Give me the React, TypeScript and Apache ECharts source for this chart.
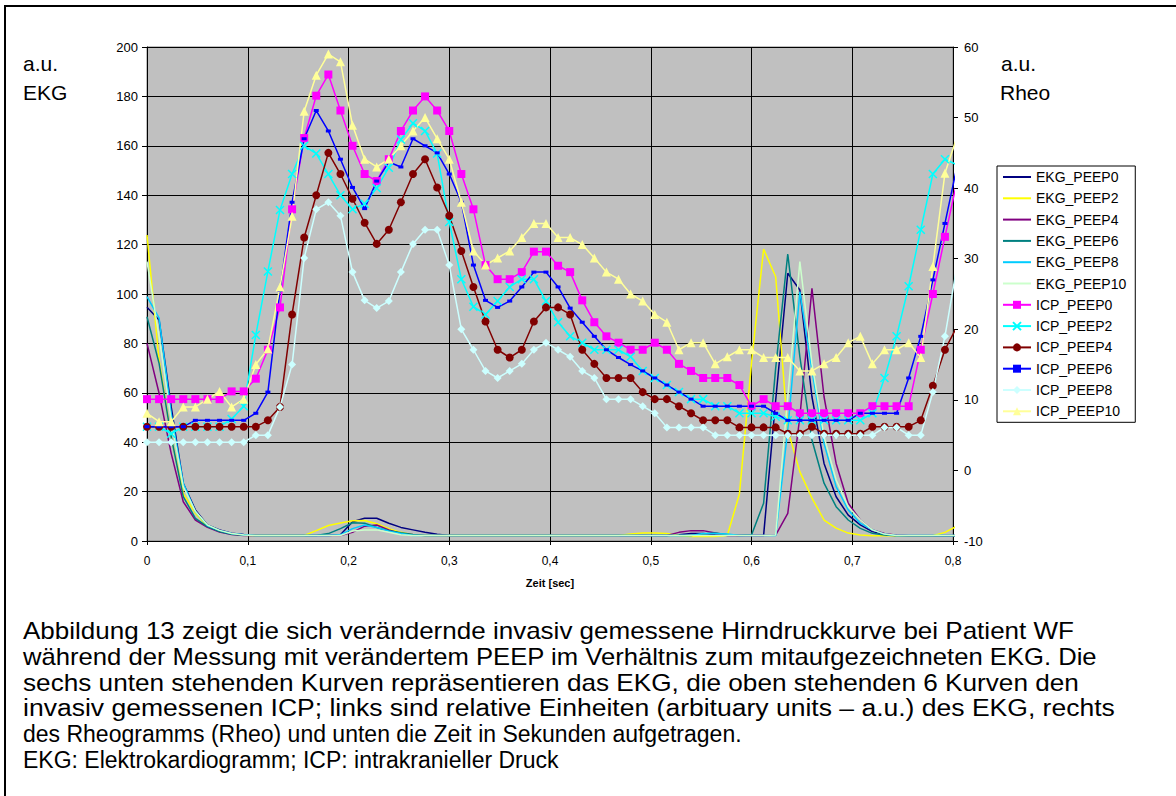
import { useEffect, useRef } from 'react';
import * as echarts from 'echarts';

// Sample times in seconds (12 ms steps)
const TIME = [
  0, 0.012, 0.024, 0.036, 0.048, 0.06, 0.072, 0.084, 0.096, 0.108,
  0.12, 0.132, 0.144, 0.156, 0.168, 0.18, 0.192, 0.204, 0.216, 0.228,
  0.24, 0.252, 0.264, 0.276, 0.288, 0.3, 0.312, 0.324, 0.336, 0.348,
  0.36, 0.372, 0.384, 0.396, 0.408, 0.42, 0.432, 0.444, 0.456, 0.468,
  0.48, 0.492, 0.504, 0.516, 0.528, 0.54, 0.552, 0.564, 0.576, 0.588,
  0.6, 0.612, 0.624, 0.636, 0.648, 0.66, 0.672, 0.684, 0.696, 0.708,
  0.72, 0.732, 0.744, 0.756, 0.768, 0.78, 0.792, 0.804,
];

// EKG (left axis, a.u.)
const EKG_PEEP0 = [
  94.6, 89.5, 54.4, 23.4, 12.6, 6.5, 4.5, 3.1, 2.6, 2.2,
  2.2, 2.2, 2.2, 2.2, 2.2, 2.2, 2.5, 7.8, 9.2, 9.2,
  7.2, 5.5, 4.5, 3.5, 2.7, 2.2, 2.2, 2.2, 2.2, 2.2,
  2.2, 2.2, 2.2, 2.2, 2.2, 2.2, 2.2, 2.2, 2.2, 2.2,
  2.2, 2.2, 2.2, 2.2, 2.5, 3.0, 3.0, 2.5, 2.2, 2.2,
  2.2, 2.2, 57, 108.4, 101.6, 58.4, 31.4, 17.9, 10.5, 6.5,
  3.8, 2.6, 2.2, 2.2, 2.2, 2.2, 2.2, 2.2,
];
const EKG_PEEP2 = [
  123.9, 73.3, 42.2, 19.3, 11.2, 6.0, 4.0, 2.8, 2.3, 2.2,
  2.2, 2.2, 2.2, 2.2, 4.2, 6.3, 7.3, 8.2, 8.3, 7.0,
  5.0, 3.5, 2.5, 2.2, 2.2, 2.2, 2.2, 2.2, 2.2, 2.2,
  2.2, 2.2, 2.2, 2.2, 2.2, 2.2, 2.2, 2.2, 2.2, 2.2,
  2.8, 3.2, 3.2, 3.0, 2.2, 1.8, 1.8, 1.8, 2.2, 19,
  72, 118.2, 107, 45, 28, 17.4, 8.5, 5.2, 3.2, 2.4,
  2.1, 2.1, 2.1, 2.1, 2.1, 2.1, 3.5, 6.0,
];
const EKG_PEEP4 = [
  80, 59.8, 35.5, 15.9, 8.5, 5.5, 3.6, 2.6, 2.2, 2.2,
  2.2, 2.2, 2.2, 2.2, 2.2, 2.2, 2.2, 3.5, 6.0, 6.5,
  4.5, 3.0, 2.5, 2.2, 2.2, 2.2, 2.2, 2.2, 2.2, 2.2,
  2.2, 2.2, 2.2, 2.2, 2.2, 2.2, 2.2, 2.2, 2.2, 2.2,
  2.2, 2.2, 2.2, 2.2, 3.5, 4.2, 4.2, 3.2, 2.2, 2.2,
  2.2, 2.2, 2.4, 11.2, 50.3, 102.3, 58.4, 31.4, 15.3, 8.5,
  4.5, 3.0, 2.3, 2.1, 2.1, 2.1, 2.1, 2.1,
];
const EKG_PEEP6 = [
  90.8, 71.9, 42.2, 18.0, 9.2, 5.8, 3.8, 2.7, 2.3, 2.2,
  2.2, 2.2, 2.2, 2.2, 2.2, 3.0, 5.0, 7.4, 7.2, 5.5,
  4.2, 3.3, 2.6, 2.2, 2.2, 2.2, 2.2, 2.2, 2.2, 2.2,
  2.2, 2.2, 2.2, 2.2, 2.2, 2.2, 2.2, 2.2, 2.2, 2.2,
  2.2, 2.2, 2.2, 2.2, 2.2, 2.2, 2.8, 3.2, 2.5, 2.2,
  2.4, 15.3, 70, 116.2, 74.6, 40.9, 23.4, 13.9, 8.5, 5.1,
  3.1, 2.4, 2.1, 2.1, 2.1, 2.1, 2.1, 2.1,
];
const EKG_PEEP8 = [
  98.9, 90.2, 51.7, 23.4, 11.9, 6.3, 4.3, 3.0, 2.5, 2.2,
  2.2, 2.2, 2.2, 2.2, 2.2, 2.2, 2.5, 5.0, 6.5, 5.5,
  4.0, 3.0, 2.2, 2.2, 2.2, 2.2, 2.2, 2.2, 2.2, 2.2,
  2.2, 2.2, 2.2, 2.2, 2.2, 2.2, 2.2, 2.2, 2.2, 2.2,
  2.2, 2.2, 2.2, 2.2, 2.2, 2.2, 3.0, 3.0, 2.8, 2.2,
  2.2, 2.2, 2.2, 45, 100.9, 69.2, 39.5, 22.0, 12.6, 7.2,
  4.5, 2.8, 2.2, 2.2, 2.2, 2.2, 2.2, 2.2,
];
const EKG_PEEP10 = [
  113.1, 82.7, 49, 22, 12, 6.5, 4.3, 3.0, 2.4, 2.2,
  2.2, 2.2, 2.2, 2.2, 2.2, 2.2, 2.2, 4.0, 4.5, 4.5,
  3.5, 2.5, 2.2, 2.2, 2.2, 2.2, 2.2, 2.2, 2.2, 2.2,
  2.2, 2.2, 2.2, 2.2, 2.2, 2.2, 2.2, 2.2, 2.2, 2.2,
  2.2, 2.2, 2.2, 2.2, 2.2, 2.2, 2.2, 2.2, 2.2, 2.2,
  2.2, 2.2, 2.4, 58.4, 113.1, 71.9, 42.2, 24.7, 13.9, 8.5,
  4.5, 2.8, 2.2, 2.2, 2.2, 2.2, 2.2, 2.2,
];

// ICP (right axis)
const ICP_PEEP0 = [
  10.1, 10.1, 10.1, 10.1, 10.1, 10.1, 10.1, 11.2, 11.2, 13.0,
  17.1, 23.1, 37.0, 47.1, 53.1, 56.1, 51.0, 46.0, 42.0, 41.0,
  44.1, 48.1, 51.0, 53.0, 51.0, 48.1, 42.0, 37.0, 29.1, 27.1,
  27.1, 28.1, 31.0, 31.0, 29.0, 28.1, 24.1, 21.0, 19.0, 18.1,
  17.1, 17.1, 18.1, 17.1, 15.1, 14.1, 13.1, 13.1, 13.1, 12.1,
  9.1, 10.1, 9.1, 9.1, 8.1, 8.1, 8.1, 8.1, 8.1, 8.1,
  9.1, 9.1, 9.1, 9.1, 17.1, 25.0, 33.1, 41.0,
];
const ICP_PEEP2 = [
  6.2, 6.2, 5.2, 6.2, 6.2, 6.2, 6.2, 7.3, 9.1, 19.2,
  28.2, 36.9, 42.0, 46.0, 44.9, 42.0, 39.0, 37.0, 37.8, 40.0,
  42.9, 46.9, 49.2, 48.1, 44.9, 35.2, 27.1, 23.2, 22.1, 24.0,
  26.0, 27.1, 27.1, 24.0, 21.0, 19.0, 18.1, 17.1, 17.1, 17.1,
  16.1, 14.1, 13.1, 12.1, 11.1, 10.1, 10.1, 9.1, 9.1, 8.1,
  8.1, 8.1, 7.6, 7.1, 7.1, 7.1, 7.1, 7.1, 7.1, 7.1,
  8.1, 13.1, 19.0, 26.1, 34.1, 42.0, 44.1, 43.3,
];
const ICP_PEEP4 = [
  6.2, 6.2, 6.2, 6.2, 6.2, 6.2, 6.2, 6.2, 6.2, 6.2,
  7.1, 9.0, 22.1, 33.0, 39.0, 45.0, 42.0, 38.5, 35.1, 32.1,
  34.1, 38.0, 42.0, 44.1, 40.1, 36.1, 31.1, 26.0, 21.1, 17.1,
  16.0, 17.1, 21.1, 23.1, 23.1, 22.1, 17.1, 15.1, 13.1, 13.1,
  13.1, 11.1, 10.1, 10.1, 9.1, 8.1, 7.1, 7.1, 7.1, 6.1,
  6.1, 6.1, 6.1, 5.2, 5.2, 6.2, 5.2, 5.2, 5.2, 5.2,
  6.2, 6.2, 6.2, 6.2, 7.1, 12.0, 17.1, 20.4,
];
const ICP_PEEP6 = [
  6.2, 6.2, 6.2, 6.2, 7.1, 7.1, 7.1, 7.1, 7.1, 8.1,
  11.1, 25.5, 38.0, 47.0, 51.0, 48.1, 44.1, 40.1, 37.1, 41.0,
  43.7, 43.0, 47.0, 46.0, 45.0, 42.0, 38.0, 29.1, 24.1, 23.1,
  24.0, 26.0, 28.1, 28.1, 26.0, 23.0, 21.0, 19.0, 17.1, 16.0,
  15.0, 14.1, 13.1, 12.1, 11.1, 10.1, 9.1, 9.1, 9.1, 9.1,
  9.1, 9.1, 8.1, 7.1, 7.1, 7.1, 7.1, 7.1, 7.1, 8.1,
  8.1, 8.1, 8.1, 13.1, 19.0, 27.0, 35.0, 43.1,
];
const ICP_PEEP8 = [
  4.0, 4.0, 4.0, 4.0, 4.0, 4.0, 4.0, 4.0, 4.0, 5.0,
  5.0, 9.0, 15.0, 30.1, 37.0, 38.0, 36.1, 28.1, 24.1, 23.0,
  24.0, 28.1, 32.1, 34.1, 34.1, 29.1, 20.0, 17.1, 14.1, 13.1,
  14.1, 15.1, 17.1, 18.1, 17.1, 16.1, 14.1, 13.1, 10.1, 10.1,
  10.1, 9.1, 8.1, 6.1, 6.1, 6.1, 6.1, 5.0, 5.0, 5.0,
  5.0, 5.0, 5.0, 5.0, 5.0, 5.0, 5.0, 5.0, 5.0, 5.0,
  5.0, 6.1, 6.1, 5.0, 5.0, 11.1, 19.0, 29.0,
];
const ICP_PEEP10 = [
  8.1, 6.9, 6.9, 9.0, 9.0, 10.1, 11.2, 9.0, 10.1, 15.0,
  17.2, 26.0, 36.0, 50.9, 56.0, 59.0, 57.9, 48.9, 44.1, 43.0,
  44.1, 46.0, 48.1, 50.0, 47.0, 44.1, 38.0, 31.1, 29.1, 30.1,
  31.1, 33.0, 35.0, 35.0, 33.0, 33.0, 32.0, 30.1, 28.1, 27.1,
  25.0, 24.0, 22.1, 21.0, 17.1, 18.1, 18.1, 15.1, 16.1, 17.1,
  17.1, 16.0, 16.0, 16.0, 14.1, 14.1, 15.1, 16.0, 18.1, 19.0,
  15.1, 17.1, 17.1, 18.1, 16.0, 28.9, 42.1, 47.3,
];

const X_TICKS = [0, 0.1, 0.2, 0.3, 0.4, 0.5, 0.6, 0.7, 0.8];

const EKG_NAMES = ['EKG_PEEP0', 'EKG_PEEP2', 'EKG_PEEP4', 'EKG_PEEP6', 'EKG_PEEP8', 'EKG_PEEP10'];
const ICP_NAMES = ['ICP_PEEP0', 'ICP_PEEP2', 'ICP_PEEP4', 'ICP_PEEP6', 'ICP_PEEP8', 'ICP_PEEP10'];

const CAPTION = [
  'Abbildung 13 zeigt die sich verändernde invasiv gemessene Hirndruckkurve bei Patient WF',
  'während der Messung mit verändertem PEEP im Verhältnis zum mitaufgezeichneten EKG. Die',
  'sechs unten stehenden Kurven repräsentieren das EKG, die oben stehenden 6 Kurven den',
  'invasiv gemessenen ICP; links sind relative Einheiten (arbituary units – a.u.) des EKG, rechts',
  'des Rheogramms (Rheo) und unten die Zeit in Sekunden aufgetragen.',
  'EKG: Elektrokardiogramm; ICP: intrakranieller Druck',
];
// right edges of justified caption lines (null = not justified)
const CAPTION_RIGHT = [1074, 1098, 1079, 1115, null, null];

const FONT = '"Liberation Sans", Arial, sans-serif';

export default function App() {
  const ref = useRef<HTMLDivElement>(null);

  useEffect(() => {
    document.body.style.margin = '0';
    const chart = echarts.init(ref.current!, null, { renderer: 'svg' });

    const pairs = (arr: number[]) => TIME.map((t, i) => [t, arr[i]]);

    const ekg = (name: string, arr: number[], color: string) => ({
      type: 'line',
      name,
      yAxisIndex: 0,
      data: pairs(arr),
      symbol: 'none',
      showSymbol: false,
      clip: true,
      lineStyle: { color, width: 1.5 },
      itemStyle: { color, opacity: 0 },
      emphasis: { disabled: true },
    });

    const icp = (
      name: string,
      arr: number[],
      color: string,
      symbol: string,
      size: number | number[],
      extra: any = {}
    ) => ({
      type: 'line',
      name,
      yAxisIndex: 1,
      data: pairs(arr),
      symbol,
      symbolSize: size,
      showSymbol: true,
      showAllSymbol: true,
      clip: true,
      lineStyle: { color, width: 1.5 },
      itemStyle: { color, borderColor: color, borderWidth: 0, ...extra },
      emphasis: { disabled: true },
    });

    const canvas = document.createElement('canvas');
    const ctx = canvas.getContext('2d')!;
    ctx.font = '23px "Liberation Sans"';

    const captionGraphics = CAPTION.map((line, i) => {
      const right = CAPTION_RIGHT[i];
      let scaleX = 1;
      if (right !== null) {
        const w = ctx.measureText(line).width;
        if (w > 0) scaleX = (right - 23) / w;
      }
      return {
        type: 'text',
        x: 23,
        y: 631 + i * 25.8,
        scaleX,
        style: {
          text: line,
          font: `23px ${FONT}`,
          fill: '#000',
          textAlign: 'left',
          textVerticalAlign: 'middle',
        },
      };
    });

    const option: any = {
      animation: false,
      backgroundColor: '#ffffff',
      textStyle: { fontFamily: FONT },
      grid: {
        left: 147,
        top: 47,
        width: 806,
        height: 494,
        show: true,
        backgroundColor: '#C0C0C0',
        borderColor: '#808080',
        borderWidth: 1,
      },
      xAxis: {
        type: 'value',
        min: 0,
        max: 0.8,
        interval: 0.1,
        axisLine: { show: true, onZero: false, lineStyle: { color: '#000', width: 1 } },
        axisTick: { show: true, length: 4, lineStyle: { color: '#000' } },
        axisLabel: {
          color: '#000',
          fontSize: 12,
          margin: 14,
          formatter: (v: number) => {
            const m = X_TICKS.find((t) => Math.abs(t - v) < 1e-6);
            if (m === undefined) return '';
            return m === 0 ? '0' : m.toFixed(1).replace('.', ',');
          },
        },
        splitLine: { show: true, lineStyle: { color: '#000', width: 1 } },
      },
      yAxis: [
        {
          type: 'value',
          position: 'left',
          min: 0,
          max: 200,
          interval: 20,
          axisLine: { show: true, lineStyle: { color: '#000', width: 1 } },
          axisTick: { show: true, length: 5, lineStyle: { color: '#000' } },
          axisLabel: { color: '#000', fontSize: 13, margin: 9 },
          splitLine: { show: true, lineStyle: { color: '#000', width: 1 } },
        },
        {
          type: 'value',
          position: 'right',
          min: -10,
          max: 60,
          interval: 10,
          axisLine: { show: true, lineStyle: { color: '#000', width: 1 } },
          axisTick: { show: true, length: 5, lineStyle: { color: '#000' } },
          axisLabel: { color: '#000', fontSize: 13, margin: 11 },
          splitLine: { show: false },
        },
      ],
      legend: {
        orient: 'vertical',
        left: 997,
        top: 166,
        padding: [4, 9, 4, 5],
        itemGap: 7.3,
        itemWidth: 28,
        itemHeight: 10,
        selectedMode: false,
        backgroundColor: '#ffffff',
        borderColor: '#000000',
        borderWidth: 1,
        borderRadius: 0,
        textStyle: { color: '#000', fontSize: 14, lineHeight: 14, fontFamily: FONT },
        data: [
          ...EKG_NAMES.map((name) => ({ name, itemStyle: { opacity: 0 } })),
          ...ICP_NAMES,
        ],
      },
      series: [
        ekg(EKG_NAMES[0], EKG_PEEP0, '#000080'),
        ekg(EKG_NAMES[1], EKG_PEEP2, '#FFFF00'),
        ekg(EKG_NAMES[2], EKG_PEEP4, '#800080'),
        ekg(EKG_NAMES[3], EKG_PEEP6, '#008080'),
        ekg(EKG_NAMES[4], EKG_PEEP8, '#00CCFF'),
        ekg(EKG_NAMES[5], EKG_PEEP10, '#CCFFCC'),
        icp(ICP_NAMES[0], ICP_PEEP0, '#FF00FF', 'rect', 8),
        icp(ICP_NAMES[1], ICP_PEEP2, '#00FFFF', 'path://M0,0L10,10M10,0L0,10', 8, {
          color: 'transparent',
          borderColor: '#00FFFF',
          borderWidth: 1.5,
        }),
        icp(ICP_NAMES[2], ICP_PEEP4, '#800000', 'circle', 8),
        icp(ICP_NAMES[3], ICP_PEEP6, '#0000FF', 'rect', [5, 3]),
        icp(ICP_NAMES[4], ICP_PEEP8, '#CCFFFF', 'diamond', 8),
        icp(ICP_NAMES[5], ICP_PEEP10, '#FFFF99', 'triangle', 9),
      ],
      graphic: [
        { type: 'line', shape: { x1: 4, y1: 6, x2: 1176, y2: 6 }, style: { stroke: '#000', lineWidth: 2 } },
        { type: 'line', shape: { x1: 5, y1: 5, x2: 5, y2: 796 }, style: { stroke: '#000', lineWidth: 2 } },
        { type: 'text', x: 23, y: 63, style: { text: 'a.u.', font: `21px ${FONT}`, fill: '#000', textVerticalAlign: 'middle' } },
        { type: 'text', x: 23, y: 92, style: { text: 'EKG', font: `21px ${FONT}`, fill: '#000', textVerticalAlign: 'middle' } },
        { type: 'text', x: 1001, y: 63, style: { text: 'a.u.', font: `21px ${FONT}`, fill: '#000', textVerticalAlign: 'middle' } },
        { type: 'text', x: 1000, y: 92, style: { text: 'Rheo', font: `21px ${FONT}`, fill: '#000', textVerticalAlign: 'middle' } },
        {
          type: 'text',
          x: 550,
          y: 583,
          style: { text: 'Zeit [sec]', font: `bold 11px ${FONT}`, fill: '#000', textAlign: 'center', textVerticalAlign: 'middle' },
        },
        ...captionGraphics,
      ],
    };

    chart.setOption(option);
    return () => chart.dispose();
  }, []);

  return <div ref={ref} style={{ width: 1176, height: 796, background: '#fff' }} />;
}
